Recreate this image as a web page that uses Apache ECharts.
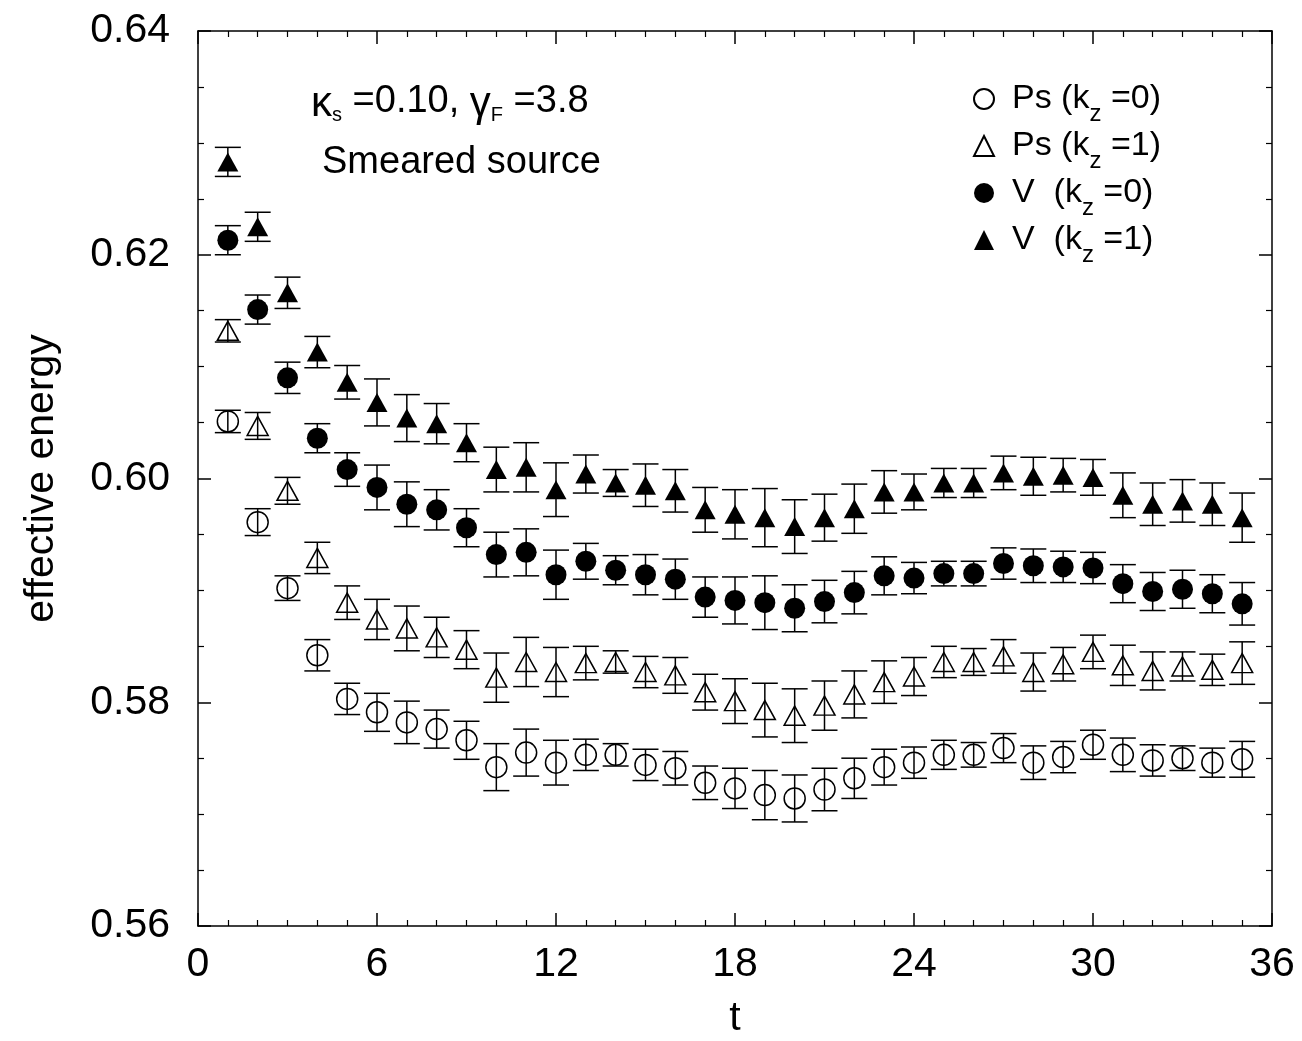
<!DOCTYPE html>
<html>
<head>
<meta charset="utf-8">
<script src="https://cdn.jsdelivr.net/npm/echarts@6/dist/echarts.min.js"></script>
<style>
html, body { margin: 0; padding: 0; background: #fff; }
#chart { width: 1302px; height: 1041px; }
</style>
</head>
<body>
<div id="chart"></div>
<script>
var FONT = "'Liberation Sans', Arial, sans-serif";

// time slices
var tValues = [1,2,3,4,5,6,7,8,9,10,11,12,13,14,15,16,17,18,19,20,
               21,22,23,24,25,26,27,28,29,30,31,32,33,34,35];

// Ps (kz=0)
var psK0 = [0.6051,0.5961,0.5902,0.5842,0.5803,0.5791,0.5782,0.5776,0.5766,0.5742,
            0.5755,0.5746,0.5753,0.5753,0.5744,0.5741,0.5728,0.5723,0.5717,0.5714,
            0.5722,0.5732,0.5742,0.5746,0.5753,0.5753,0.5759,0.5746,0.5751,0.5762,
            0.5753,0.5748,0.5750,0.5746,0.5749];
var psK0Err = [0.0010,0.0012,0.0011,0.0014,0.0014,0.0017,0.0019,0.0017,0.0017,0.0021,
               0.0021,0.0020,0.0014,0.0010,0.0014,0.0015,0.0015,0.0018,0.0022,0.0021,
               0.0019,0.0018,0.0016,0.0014,0.0013,0.0011,0.0013,0.0015,0.0014,0.0013,
               0.0015,0.0014,0.0011,0.0013,0.0016];

// Ps (kz=1)
var psK1 = [0.6132,0.6047,0.5989,0.5929,0.5889,0.5874,0.5866,0.5858,0.5847,0.5822,
            0.5836,0.5827,0.5835,0.5836,0.5827,0.5824,0.5809,0.5801,0.5793,0.5788,
            0.5797,0.5807,0.5818,0.5823,0.5836,0.5836,0.5841,0.5827,0.5834,0.5845,
            0.5833,0.5828,0.5832,0.5829,0.5835];
var psK1Err = [0.0010,0.0012,0.0012,0.0014,0.0015,0.0018,0.0020,0.0018,0.0017,0.0022,
               0.0022,0.0022,0.0015,0.0010,0.0014,0.0016,0.0016,0.0020,0.0024,0.0024,
               0.0022,0.0021,0.0019,0.0017,0.0014,0.0012,0.0015,0.0017,0.0015,0.0015,
               0.0018,0.0017,0.0013,0.0014,0.0019];

// V (kz=0)
var vK0 = [0.6213,0.6151,0.6090,0.6036,0.6008,0.5992,0.5977,0.5972,0.5956,0.5932,
           0.5934,0.5914,0.5926,0.5918,0.5914,0.5910,0.5894,0.5891,0.5889,0.5884,
           0.5890,0.5898,0.5913,0.5911,0.5915,0.5915,0.5924,0.5922,0.5921,0.5920,
           0.5906,0.5899,0.5901,0.5897,0.5888];
var vK0Err = [0.0013,0.0013,0.0014,0.0013,0.0015,0.0020,0.0020,0.0018,0.0017,0.0020,
              0.0021,0.0022,0.0016,0.0013,0.0018,0.0018,0.0018,0.0021,0.0024,0.0021,
              0.0019,0.0019,0.0017,0.0014,0.0011,0.0011,0.0014,0.0015,0.0014,0.0014,
              0.0017,0.0017,0.0017,0.0017,0.0019];

// V (kz=1)
var vK1 = [0.6283,0.6225,0.6166,0.6113,0.6086,0.6068,0.6054,0.6049,0.6032,0.6008,
           0.6010,0.5990,0.6004,0.5996,0.5994,0.5989,0.5972,0.5968,0.5965,0.5957,
           0.5965,0.5973,0.5988,0.5988,0.5996,0.5996,0.6005,0.6002,0.6003,0.6001,
           0.5985,0.5977,0.5980,0.5977,0.5965];
var vK1Err = [0.0013,0.0013,0.0014,0.0014,0.0015,0.0021,0.0021,0.0018,0.0017,0.0020,
              0.0022,0.0024,0.0017,0.0012,0.0019,0.0019,0.0020,0.0022,0.0026,0.0024,
              0.0021,0.0022,0.0019,0.0016,0.0013,0.0013,0.0015,0.0017,0.0015,0.0016,
              0.0020,0.0019,0.0019,0.0019,0.0022];

var seriesNames = ['Ps (kz=0)', 'Ps (kz=1)', 'V (kz=0)', 'V (kz=1)'];
var legendLabels = {
    'Ps (kz=0)': '{pad| }{m|Ps (k}{sub|z}{m| =0)}',
    'Ps (kz=1)': '{pad| }{m|Ps (k}{sub|z}{m| =1)}',
    'V (kz=0)': '{pad| }{m|V  (k}{sub|z}{m| =0)}',
    'V (kz=1)': '{pad| }{m|V  (k}{sub|z}{m| =1)}'
};

function points(vals) {
    return tValues.map(function (t, i) { return [t, vals[i]]; });
}
function bars(vals, errs) {
    return tValues.map(function (t, i) { return [t, vals[i] - errs[i], vals[i] + errs[i]]; });
}

function errorBarItem(params, api) {
    var x = api.value(0);
    var lo = api.coord([x, api.value(1)]);
    var hi = api.coord([x, api.value(2)]);
    var hw = 13;
    var st = { stroke: '#000', lineWidth: 1.5 };
    return {
        type: 'group',
        children: [
            { type: 'line', shape: { x1: hi[0], y1: hi[1], x2: lo[0], y2: lo[1] }, style: st },
            { type: 'line', shape: { x1: hi[0] - hw, y1: hi[1], x2: hi[0] + hw, y2: hi[1] }, style: st },
            { type: 'line', shape: { x1: lo[0] - hw, y1: lo[1], x2: lo[0] + hw, y2: lo[1] }, style: st }
        ]
    };
}

function errSeries(vals, errs) {
    return {
        type: 'custom',
        renderItem: errorBarItem,
        data: bars(vals, errs),
        encode: { x: 0, y: [1, 2] },
        z: 2,
        silent: true
    };
}

var axisLineStyle = { color: '#000', width: 1.5 };
var minorStyle = { color: '#000', width: 1.2 };
var tickLabel = { fontSize: 41, color: '#000', fontFamily: FONT };

var chart = echarts.init(document.getElementById('chart'));

var option = {
    backgroundColor: '#fff',
    animation: false,
    grid: { left: 198, right: 30, top: 31, bottom: 115, outerBoundsMode: 'none', containLabel: false },
    legend: {
        data: seriesNames,
        orient: 'vertical',
        left: 968,
        top: 77,
        itemWidth: 20,
        itemHeight: 20,
        itemGap: 3,
        selectedMode: false,
        formatter: function (name) { return legendLabels[name]; },
        textStyle: {
            fontSize: 34,
            color: '#000',
            fontFamily: FONT,
            rich: {
                pad: { width: 13, fontSize: 34, lineHeight: 34, verticalAlign: 'top' },
                m: { fontSize: 34, lineHeight: 34, verticalAlign: 'top', color: '#000', fontFamily: FONT },
                sub: { fontSize: 24, lineHeight: 24, verticalAlign: 'top', padding: [20, 0, 0, 0],
                       color: '#000', fontFamily: FONT }
            }
        }
    },
    graphic: [
        {
            type: 'text',
            left: 311,
            top: 83,
            style: {
                text: '{g|\u03ba}{s|s}{m| =0.10, }{g|\u03b3}{s|F}{m| =3.8}',
                fill: '#000',
                fontFamily: FONT,
                rich: {
                    m: { fontSize: 38, lineHeight: 38, verticalAlign: 'top', fill: '#000', fontFamily: FONT },
                    g: { fontSize: 42, lineHeight: 35, verticalAlign: 'top', fill: '#000', fontFamily: FONT },
                    s: { fontSize: 20, lineHeight: 20, verticalAlign: 'top', padding: [22, 0, 0, 0],
                         fill: '#000', fontFamily: FONT }
                }
            }
        },
        {
            type: 'text',
            left: 322,
            top: 144,
            style: { text: 'Smeared source', fontSize: 38, lineHeight: 38, fill: '#000', fontFamily: FONT }
        }
    ],
    xAxis: [
        {
            type: 'value',
            min: 0, max: 36, interval: 6,
            position: 'bottom',
            name: 't',
            nameLocation: 'middle',
            nameGap: 72,
            nameTextStyle: { fontSize: 41, color: '#000', fontFamily: FONT },
            axisLine: { onZero: false, lineStyle: axisLineStyle },
            axisTick: { inside: true, length: 13, lineStyle: axisLineStyle },
            minorTick: { show: true, splitNumber: 6, length: 6, lineStyle: minorStyle },
            splitLine: { show: false },
            axisLabel: Object.assign({ margin: 18 }, tickLabel)
        },
        {
            type: 'value',
            min: 0, max: 36, interval: 6,
            position: 'top',
            axisLine: { onZero: false, lineStyle: axisLineStyle },
            axisTick: { inside: true, length: 13, lineStyle: axisLineStyle },
            minorTick: { show: true, splitNumber: 6, length: 6, lineStyle: minorStyle },
            splitLine: { show: false },
            axisLabel: { show: false }
        }
    ],
    yAxis: [
        {
            type: 'value',
            min: 0.56, max: 0.64, interval: 0.02,
            position: 'left',
            name: 'effective energy',
            nameLocation: 'middle',
            nameGap: 136,
            nameTextStyle: { fontSize: 41, color: '#000', fontFamily: FONT },
            axisLine: { onZero: false, lineStyle: axisLineStyle },
            axisTick: { inside: true, length: 13, lineStyle: axisLineStyle },
            minorTick: { show: true, splitNumber: 4, length: 6, lineStyle: minorStyle },
            splitLine: { show: false },
            axisLabel: Object.assign({
                margin: 28,
                formatter: function (v) { return v.toFixed(2); }
            }, tickLabel)
        },
        {
            type: 'value',
            min: 0.56, max: 0.64, interval: 0.02,
            position: 'right',
            axisLine: { onZero: false, lineStyle: axisLineStyle },
            axisTick: { inside: true, length: 13, lineStyle: axisLineStyle },
            minorTick: { show: true, splitNumber: 4, length: 6, lineStyle: minorStyle },
            splitLine: { show: false },
            axisLabel: { show: false }
        }
    ],
    series: [
        errSeries(psK0, psK0Err),
        errSeries(psK1, psK1Err),
        errSeries(vK0, vK0Err),
        errSeries(vK1, vK1Err),
        {
            name: seriesNames[0], type: 'scatter', data: points(psK0),
            symbol: 'circle', symbolSize: 21, z: 3,
            itemStyle: { color: 'rgba(255,255,255,0)', borderColor: '#000', borderWidth: 1.5, opacity: 1 }
        },
        {
            name: seriesNames[1], type: 'scatter', data: points(psK1),
            symbol: 'triangle', symbolSize: [21, 19], z: 3,
            itemStyle: { color: 'rgba(255,255,255,0)', borderColor: '#000', borderWidth: 1.5, opacity: 1 }
        },
        {
            name: seriesNames[2], type: 'scatter', data: points(vK0),
            symbol: 'circle', symbolSize: 21, z: 3,
            itemStyle: { color: '#000', opacity: 1 }
        },
        {
            name: seriesNames[3], type: 'scatter', data: points(vK1),
            symbol: 'triangle', symbolSize: [21, 19], z: 3,
            itemStyle: { color: '#000', opacity: 1 }
        }
    ]
};

chart.setOption(option);
</script>
</body>
</html>
